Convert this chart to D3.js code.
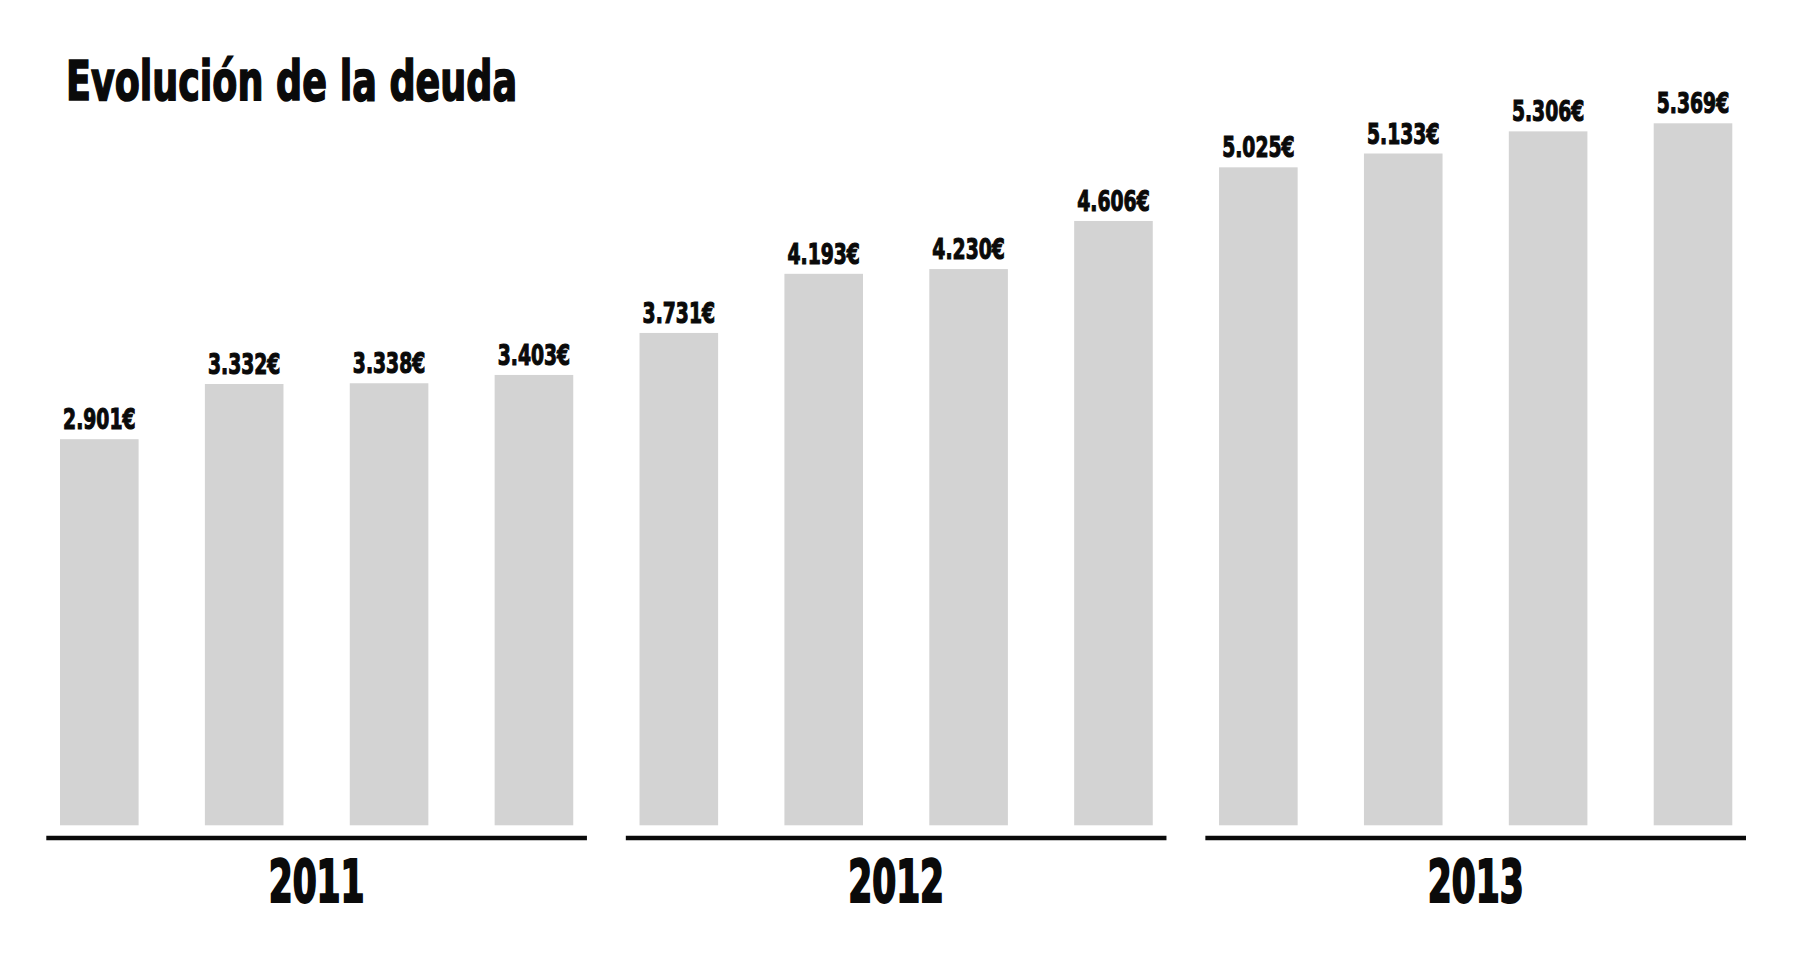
<!DOCTYPE html>
<html>
<head>
<meta charset="utf-8">
<script src="https://cdn.jsdelivr.net/npm/d3@7"></script>
<style>
  html, body { margin: 0; padding: 0; background: #fff; }
  svg { display: block; }
  .cond { font-family: "Liberation Sans Narrow", "DejaVu Sans Condensed", "Arial Narrow", sans-serif; font-weight: bold; }
</style>
</head>
<body>
<svg id="chart" width="1803" height="956"></svg>
<script>
const title = "Evolución de la deuda";
const years = ["2011", "2012", "2013"];
const quarters = ["T1", "T2", "T3", "T4"];
const values = [2901, 3332, 3338, 3403, 3731, 4193, 4230, 4606, 5025, 5133, 5306, 5369];

const W = 1803, H = 956;
const svg = d3.select("#chart");

const keys = years.flatMap(y => quarters.map(q => y + "-" + q));
const data = keys.map((k, i) => ({ key: k, year: k.split("-")[0], value: values[i] }));

const x = d3.scaleBand().domain(keys).range([60, 1732.3]).paddingInner(0.4575).paddingOuter(0);
const y = d3.scaleLinear().domain([0, 5369]).range([810.5, 123.3]);
const barBottom = 825.3;

const es = d3.formatLocale({ decimal: ",", thousands: ".", grouping: [3], currency: ["", "€"] });
const fmt = es.format(",d");

// title
svg.append("text")
  .attr("class", "cond")
  .attr("x", 66).attr("y", 100)
  .attr("font-size", 55)
  .attr("fill", "#0a0a0a").attr("stroke", "#0a0a0a").attr("stroke-width", 1.6)
  .attr("textLength", 451).attr("lengthAdjust", "spacingAndGlyphs")
  .text(title);

// bars
svg.append("g").selectAll("rect").data(data).join("rect")
  .attr("x", d => x(d.key))
  .attr("y", d => y(d.value))
  .attr("width", x.bandwidth())
  .attr("height", d => barBottom - y(d.value))
  .attr("fill", "#d3d3d3");

// value labels
svg.append("g").selectAll("text").data(data).join("text")
  .attr("class", "cond")
  .attr("transform", d => `translate(${x(d.key) + x.bandwidth() / 2},${y(d.value) - 10}) scale(0.72,1)`)
  .attr("text-anchor", "middle")
  .attr("font-size", 29)
  .attr("fill", "#0a0a0a").attr("stroke", "#0a0a0a").attr("stroke-width", 1.1)
  .text(d => fmt(d.value) + "€");

// year groups: baseline and label
const groups = years.map(yr => {
  const ks = keys.filter(k => k.startsWith(yr));
  const x0 = x(ks[0]) - 13.7;
  const x1 = x(ks[ks.length - 1]) + x.bandwidth() + 13.7;
  return { year: yr, x0, x1 };
});

svg.append("g").selectAll("line").data(groups).join("line")
  .attr("x1", d => d.x0).attr("x2", d => d.x1)
  .attr("y1", 838).attr("y2", 838)
  .attr("stroke", "#0a0a0a").attr("stroke-width", 4.5);

svg.append("g").selectAll("text").data(groups).join("text")
  .attr("class", "cond")
  .attr("transform", d => `translate(${(d.x0 + d.x1) / 2},901.7) scale(0.66,1)`)
  .attr("text-anchor", "middle")
  .attr("font-size", 58)
  .attr("fill", "#0a0a0a").attr("stroke", "#0a0a0a").attr("stroke-width", 2.2)
  .text(d => d.year);
</script>
</body>
</html>
